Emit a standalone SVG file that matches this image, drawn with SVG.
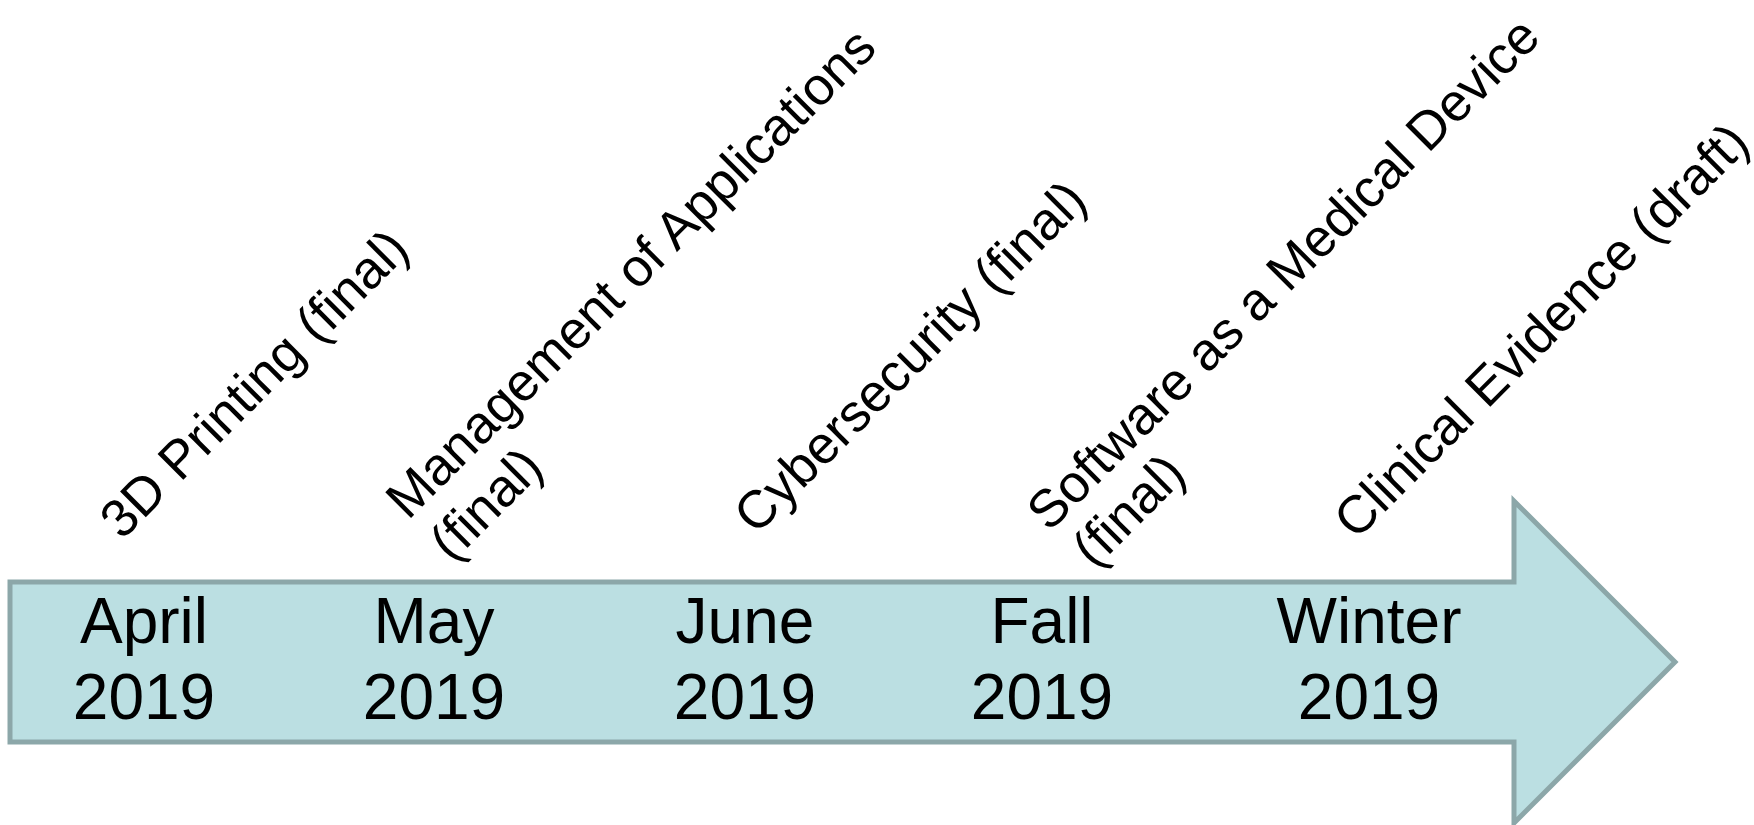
<svg xmlns="http://www.w3.org/2000/svg" width="1754" height="825" viewBox="0 0 1754 825">
<style>
.date{font-family:"Liberation Sans",Arial,sans-serif;font-size:64px;fill:#000;text-anchor:middle}
.lbl{font-family:"Liberation Sans",Arial,sans-serif;font-size:53px;fill:#000}
</style>
<rect width="1754" height="825" fill="#fff"/>
<g id="arrow">
<polygon points="10,582 1514,582 1514,501 1675,662 1514,823 1514,742 10,742" fill="#BBDFE2" stroke="#8CA7A9" stroke-width="5" stroke-linejoin="miter"/>
</g>
<g id="connectors"></g>
<g id="node-april">
<text class="date" x="144" y="643">April</text>
<text class="date" x="144" y="719">2019</text>
<g transform="translate(122,541) rotate(-45)"><text class="lbl" x="0" y="0">3D Printing (final)</text></g>
</g>
<g id="node-may">
<text class="date" x="434" y="643">May</text>
<text class="date" x="434" y="719">2019</text>
<g transform="translate(408,521) rotate(-45)"><text class="lbl"><tspan x="0" y="0">Management of Applications</tspan><tspan x="1" y="61">(final)</tspan></text></g>
</g>
<g id="node-june">
<text class="date" x="745" y="643">June</text>
<text class="date" x="745" y="719">2019</text>
<g transform="translate(756,536) rotate(-45)"><text class="lbl" x="0" y="0">Cybersecurity (final)</text></g>
</g>
<g id="node-fall">
<text class="date" x="1042" y="643">Fall</text>
<text class="date" x="1042" y="719">2019</text>
<g transform="translate(1049,533) rotate(-45)"><text class="lbl"><tspan x="0" y="0">Software as a Medical Device</tspan><tspan x="6" y="58">(final)</tspan></text></g>
</g>
<g id="node-winter">
<text class="date" x="1369" y="643">Winter</text>
<text class="date" x="1369" y="719">2019</text>
<g transform="translate(1356,541) rotate(-45)"><text class="lbl" x="0" y="0">Clinical Evidence (draft)</text></g>
</g>
</svg>
